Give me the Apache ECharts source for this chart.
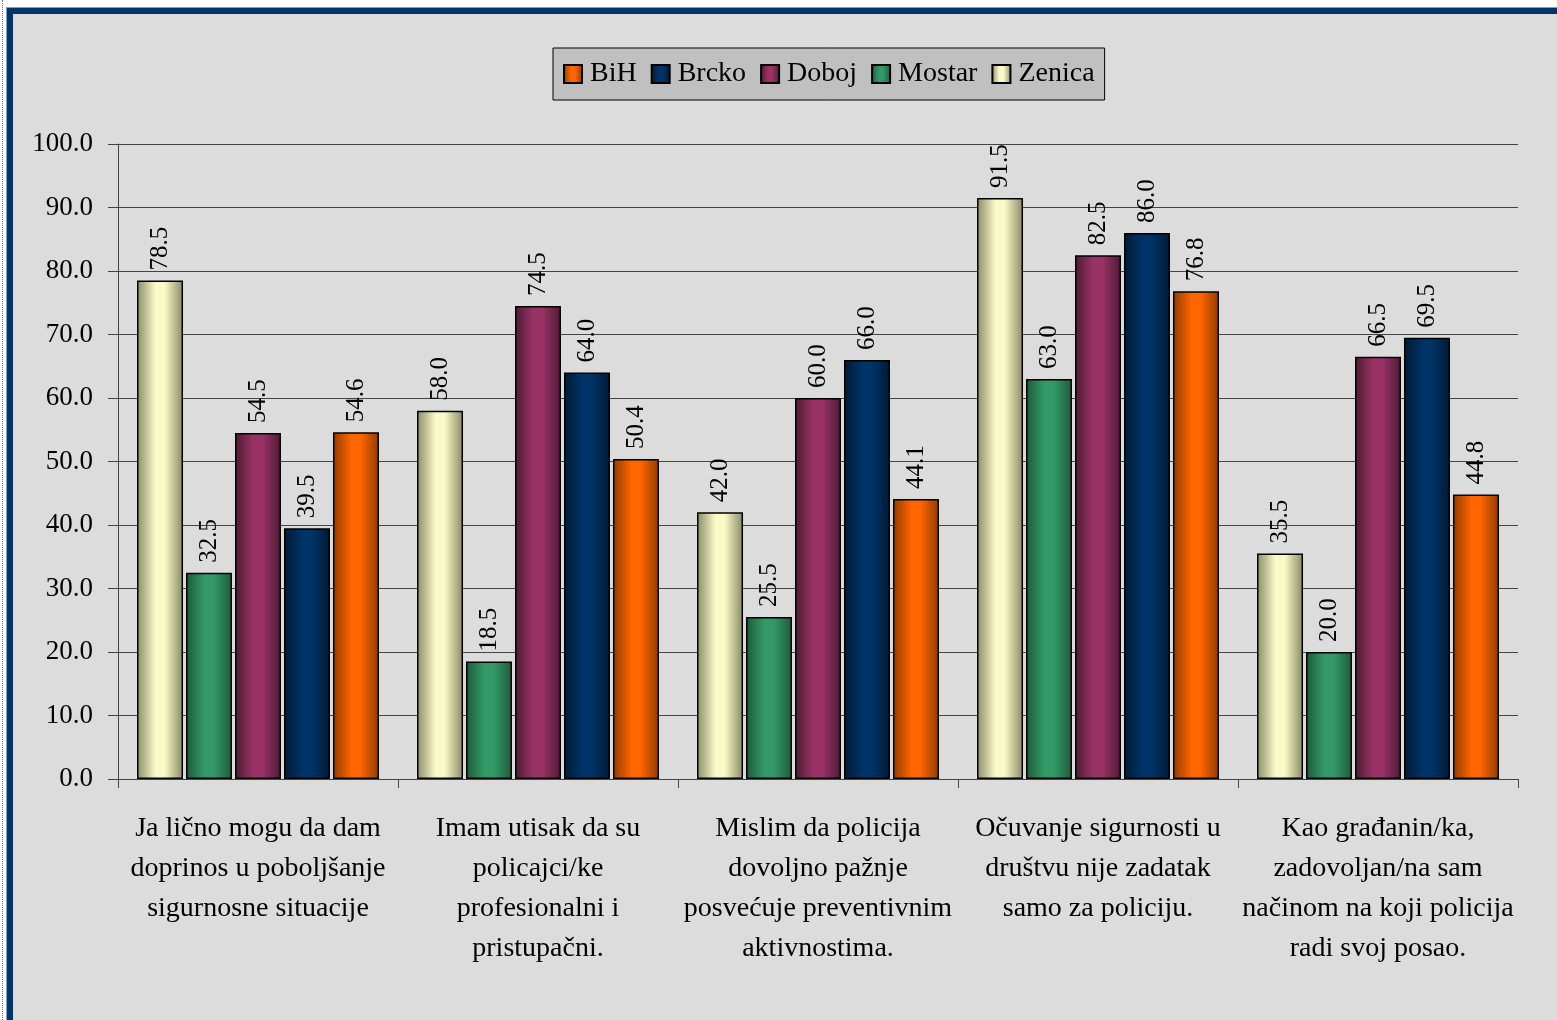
<!DOCTYPE html>
<html>
<head>
<meta charset="utf-8">
<script src="https://cdn.jsdelivr.net/npm/echarts@6/dist/echarts.min.js"></script>
<style>
    html, body { margin: 0; padding: 0; background: #fff; }
    #wrap { position: relative; width: 1557px; height: 1020px; overflow: hidden; }
    #dots { position: absolute; left: 2px; top: 0; width: 0; height: 1020px; border-left: 1px dotted #777; }
    #panel {
        position: absolute; left: 7px; top: 8px; width: 1600px; height: 1100px;
        background: #dcdcdc; border-left: 6px solid #003366; border-top: 6px solid #003366;
        box-shadow: -1px -1px 0 #7f9fbf;
    }
    #chart { position: absolute; left: 0; top: 0; width: 1557px; height: 1020px; }
</style>
</head>
<body>
<div id="wrap">
    <div id="dots"></div>
    <div id="panel"></div>
    <div id="chart"></div>
</div>
<script>
const categories = [
    'Ja lično mogu da dam\ndoprinos u poboljšanje\nsigurnosne situacije',
    'Imam utisak da su\npolicajci/ke\nprofesionalni i\npristupačni.',
    'Mislim da policija\ndovoljno pažnje\nposvećuje preventivnim\naktivnostima.',
    'Očuvanje sigurnosti u\ndruštvu nije zadatak\nsamo za policiju.',
    'Kao građanin/ka,\nzadovoljan/na sam\nnačinom na koji policija\nradi svoj posao.'
]
const zenica = [78.5, 58.0, 42.0, 91.5, 35.5]
const mostar = [32.5, 18.5, 25.5, 63.0, 20.0]
const doboj = [54.5, 74.5, 60.0, 82.5, 66.5]
const brcko = [39.5, 64.0, 66.0, 86.0, 69.5]
const bih = [54.6, 50.4, 44.1, 76.8, 44.8]
const legendOrder = ['BiH', 'Brcko', 'Doboj', 'Mostar', 'Zenica']

const serif = '"Liberation Serif", "DejaVu Serif", serif'

const shade = (edge, mid) => new echarts.graphic.LinearGradient(0, 0, 1, 0, [
    { offset: 0, color: edge },
    { offset: 0.4, color: mid },
    { offset: 0.6, color: mid },
    { offset: 1, color: edge },
])

const makeSeries = (name, data, edge, mid) => ({
    name,
    type: 'bar',
    data,
    barWidth: 46,
    barGap: '6.5%',
    itemStyle: {
        color: shade(edge, mid),
        borderColor: '#000',
        borderWidth: 1.5,
    },
    label: {
        show: true,
        position: 'top',
        rotate: 90,
        align: 'left',
        verticalAlign: 'middle',
        distance: 10,
        fontFamily: serif,
        fontSize: 25,
        color: '#000',
        formatter: (p) => p.value.toFixed(1),
    },
})

const chart = echarts.init(document.getElementById('chart'))

chart.setOption({
    animation: false,
    backgroundColor: 'transparent',
    legend: {
        data: legendOrder,
        left: 553,
        top: 48,
        padding: [12, 10, 12, 10],
        itemWidth: 18,
        itemHeight: 18,
        itemGap: 14,
        icon: 'rect',
        backgroundColor: '#c0c0c0',
        borderColor: '#000',
        borderWidth: 1,
        textStyle: {
            fontFamily: serif,
            fontSize: 28,
            color: '#000',
            padding: [0, 0, 0, 3],
        },
    },
    grid: {
        left: 118,
        right: 39,
        top: 144,
        bottom: 241,
    },
    xAxis: {
        type: 'category',
        data: categories,
        axisLine: {
            lineStyle: { color: '#444', width: 1 },
        },
        axisTick: {
            show: true,
            length: 9,
            interval: 0,
            lineStyle: { color: '#444' },
        },
        axisLabel: {
            interval: 0,
            margin: 30,
            fontFamily: serif,
            fontSize: 28,
            lineHeight: 40,
            color: '#000',
        },
    },
    yAxis: {
        type: 'value',
        min: 0,
        max: 100,
        interval: 10,
        axisLine: {
            show: true,
            lineStyle: { color: '#444', width: 1 },
        },
        axisTick: {
            show: true,
            length: 10,
            lineStyle: { color: '#444' },
        },
        splitLine: {
            lineStyle: { color: '#444', width: 1 },
        },
        axisLabel: {
            margin: 25,
            fontFamily: serif,
            fontSize: 27,
            color: '#000',
            formatter: (v) => v.toFixed(1),
        },
    },
    series: [
        makeSeries('Zenica', zenica, '#8a8a68', '#fafac8'),
        makeSeries('Mostar', mostar, '#1d5a3a', '#339966'),
        makeSeries('Doboj', doboj, '#4d1a33', '#993366'),
        makeSeries('Brcko', brcko, '#001a33', '#003366'),
        makeSeries('BiH', bih, '#8f3a00', '#ff6600'),
    ],
})
</script>
</body>
</html>
